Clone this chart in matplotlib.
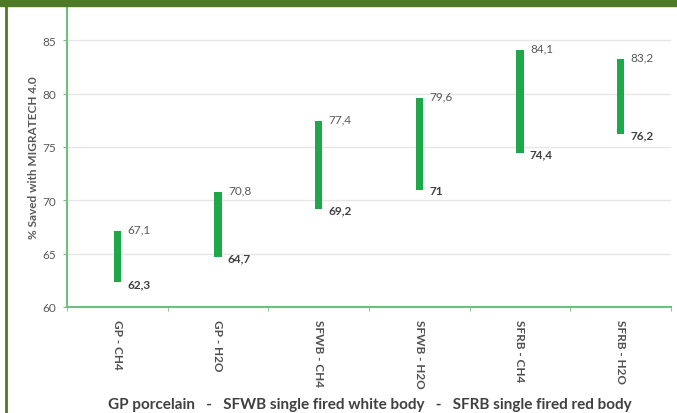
import matplotlib.pyplot as plt
from matplotlib.patches import Rectangle
from matplotlib.lines import Line2D

# ------------------------------------------------------------------
# data
# ------------------------------------------------------------------
categorias = ['GP - CH4', 'GP - H2O', 'SFWB - CH4', 'SFWB - H2O', 'SFRB - CH4', 'SFRB - H2O']
minimo = [62.3, 64.7, 69.2, 71.0, 74.4, 76.2]
maximo = [67.1, 70.8, 77.4, 79.6, 84.1, 83.2]
rot_min = ['62,3', '64,7', '69,2', '71', '74,4', '76,2']
rot_max = ['67,1', '70,8', '77,4', '79,6', '84,1', '83,2']

VERDE = '#1fa84a'
VERDE_EIXO = '#6cc27c'
VERDE_ESCURO = '#4e7a27'
CINZA = '#595959'

plt.rcParams['font.family'] = ['Lato', 'DejaVu Sans']

W, H = 677, 414
fig = plt.figure(figsize=(W / 100, H / 100), dpi=100)
ax = fig.add_axes([67 / W, 1 - 308 / H, (671 - 67) / W, (308 - 7) / H])

x = list(range(len(categorias)))
alturas = [a - b for a, b in zip(maximo, minimo)]
ax.bar(x, alturas, bottom=minimo, width=0.07, color=VERDE, zorder=3)

for xi, lo, hi, tlo, thi in zip(x, minimo, maximo, rot_min, rot_max):
    ax.annotate(thi, (xi, hi), xytext=(10, 2), textcoords='offset pixels',
                ha='left', va='center', fontsize=8.5, color=CINZA)
    ax.annotate(tlo, (xi, lo), xytext=(10, -1), textcoords='offset pixels',
                ha='left', va='center', fontsize=8.5, color='#404040', fontweight='bold')

ax.set_xlim(-0.5, len(categorias) - 0.5)
ax.set_ylim(60, 88.2)
ax.set_yticks([60, 65, 70, 75, 80, 85])
ax.set_xticks(x)
ax.set_xticklabels(categorias, rotation=270, fontsize=8.5, color='#505050', fontweight='bold')
ax.set_xticks([i - 0.5 for i in range(len(categorias) + 1)], minor=True)
ax.tick_params(axis='x', which='major', length=0, pad=9)
ax.tick_params(axis='x', which='minor', length=3, color=VERDE_EIXO, direction='out')
ax.tick_params(axis='y', length=3, color=VERDE_EIXO, labelsize=8.5, labelcolor=CINZA, pad=5)

ax.grid(axis='y', color='#e6e6e6', linewidth=1, zorder=0)
for s in ['top', 'right']:
    ax.spines[s].set_visible(False)
for s in ['left', 'bottom']:
    ax.spines[s].set_color(VERDE_EIXO)
    ax.spines[s].set_linewidth(1.5)

ax.set_ylabel('% Saved with MIGRATECH 4.0', fontsize=8.5, color=CINZA, fontweight='bold', labelpad=2)

fig.text(370 / W, 1 - 405 / H,
         'GP porcelain   -   SFWB single fired white body   -   SFRB single fired red body',
         ha='center', va='center', fontsize=11, color='#404040', fontweight='bold')

# moldura verde (faixa superior e linha esquerda)
fig.patches.append(Rectangle((0, 1 - 7 / H), 1, 7 / H, transform=fig.transFigure,
                             color=VERDE_ESCURO, zorder=10))
fig.lines.append(Line2D([6 / W, 6 / W], [0, 1], transform=fig.transFigure,
                        color=VERDE_ESCURO, linewidth=2))

fig.savefig('out.png', dpi=100)
